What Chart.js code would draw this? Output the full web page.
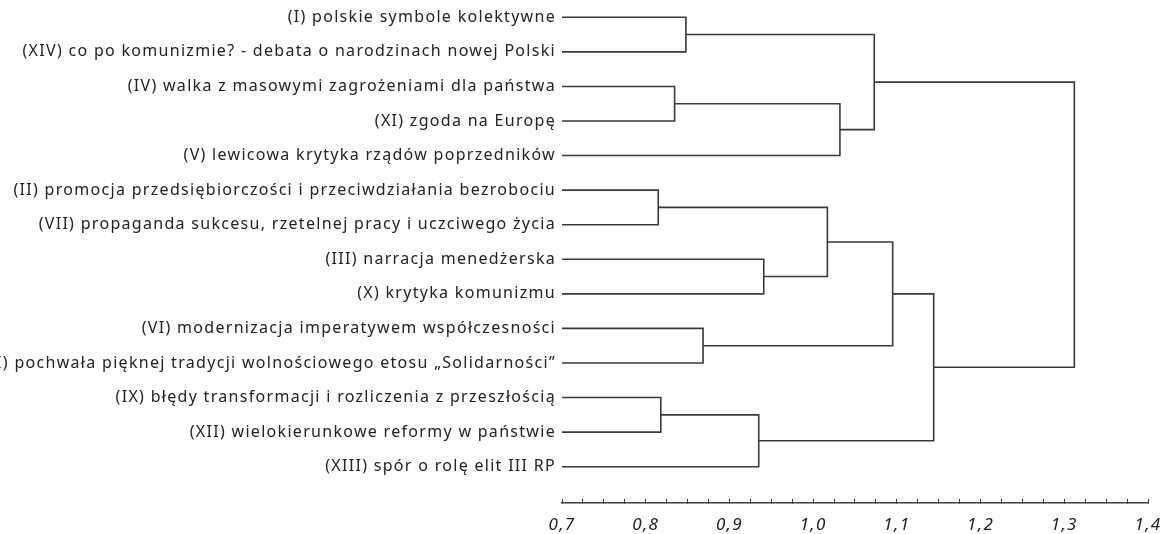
<!DOCTYPE html>
<html lang="pl">
<head>
<meta charset="utf-8">
<title>Dendrogram</title>
<script src="https://cdn.jsdelivr.net/npm/chart.js@4.4.1/dist/chart.umd.min.js"></script>
<style>
  html, body { margin: 0; padding: 0; background: #fff; }
  #wrap { width: 1162px; height: 534px; }
</style>
</head>
<body>
<div id="wrap"><canvas id="chart" width="1162" height="534"></canvas></div>
<script>
// liście dendrogramu, w kolejności od góry
const leafLabels = [
  '(I) polskie symbole kolektywne',
  '(XIV) co po komunizmie? - debata o narodzinach nowej Polski',
  '(IV) walka z masowymi zagrożeniami dla państwa',
  '(XI) zgoda na Europę',
  '(V) lewicowa krytyka rządów poprzedników',
  '(II) promocja przedsiębiorczości i przeciwdziałania bezrobociu',
  '(VII) propaganda sukcesu, rzetelnej pracy i uczciwego życia',
  '(III) narracja menedżerska',
  '(X) krytyka komunizmu',
  '(VI) modernizacja imperatywem współczesności',
  '(VIII) pochwała pięknej tradycji wolnościowego etosu „Solidarności”',
  '(IX) błędy transformacji i rozliczenia z przeszłością',
  '(XII) wielokierunkowe reformy w państwie',
  '(XIII) spór o rolę elit III RP'
]

// połączenia: indeksy 0-13 to liście, 14+ to kolejne skupienia z tej listy
const mergeLeft   = [0, 2, 15, 14, 5, 7, 18, 9, 20, 11, 23, 22, 17]
const mergeRight  = [1, 3, 4, 16, 6, 8, 19, 10, 21, 12, 13, 24, 25]
const mergeHeight = [0.848, 0.8345, 1.032, 1.073, 0.815, 0.941, 1.017, 0.8685, 1.095, 0.818, 0.935, 1.144, 1.312]

// oś X
const xMin = 0.7
const xMax = 1.4
const xMinorStep = 0.025
const xTickValues = [0.7, 0.8, 0.9, 1.0, 1.1, 1.2, 1.3, 1.4]
const xTickLabels = ['0,7', '0,8', '0,9', '1,0', '1,1', '1,2', '1,3', '1,4']

const lineColor = '#3a3a3a'
const textColor = '#222'

// pozycje węzłów
const nodeY = leafLabels.map((_, i) => i)
const nodeH = leafLabels.map(() => xMin)
mergeHeight.forEach((h, k) => {
  const l = mergeLeft[k], r = mergeRight[k]
  nodeY.push((nodeY[l] + nodeY[r]) / 2)
  nodeH.push(h)
})

const datasets = mergeHeight.map((h, k) => {
  const l = mergeLeft[k], r = mergeRight[k]
  return {
    data: [
      { x: nodeH[l], y: nodeY[l] },
      { x: h, y: nodeY[l] },
      { x: h, y: nodeY[r] },
      { x: nodeH[r], y: nodeY[r] }
    ],
    showLine: true,
    borderColor: lineColor,
    borderWidth: 1.6,
    pointRadius: 0,
    tension: 0
  }
})

// szerszy rozstaw liter jak w oryginale
const spacing = {
  id: 'spacing',
  beforeDraw: (chart) => { chart.ctx.letterSpacing = '1.3px' },
  afterDraw: (chart) => { chart.ctx.letterSpacing = '0px' }
}

new Chart(document.getElementById('chart'), {
  type: 'scatter',
  data: { datasets: datasets },
  plugins: [spacing],
  options: {
    responsive: false,
    animation: false,
    devicePixelRatio: 1,
    layout: { padding: { left: 0, right: 14, top: 0, bottom: 0 } },
    plugins: { legend: { display: false }, tooltip: { enabled: false } },
    scales: {
      x: {
        type: 'linear',
        position: 'bottom',
        min: xMin,
        max: xMax,
        border: { display: true, color: lineColor, width: 1.6 },
        grid: { display: true, drawOnChartArea: false, drawTicks: true, tickLength: -4, color: lineColor, lineWidth: 1 },
        ticks: {
          stepSize: xMinorStep,
          autoSkip: false,
          maxRotation: 0,
          padding: 16,
          color: textColor,
          font: { family: 'Noto Sans', size: 17, style: 'italic' },
          callback: (value) => {
            const i = xTickValues.findIndex(v => Math.abs(v - value) < 1e-6)
            return i >= 0 ? xTickLabels[i] : ''
          }
        },
        afterFit: (scale) => {
          scale.height = 31
          scale.paddingLeft = 0
          scale.paddingRight = 0
        }
      },
      y: {
        type: 'linear',
        position: 'left',
        reverse: true,
        min: -0.5,
        max: 14.05,
        border: { display: false },
        grid: { display: false, drawTicks: false },
        afterBuildTicks: (scale) => { scale.ticks = leafLabels.map((_, i) => ({ value: i })) },
        ticks: {
          autoSkip: false,
          padding: 6,
          color: textColor,
          font: { family: 'Noto Sans', size: 16 },
          callback: (value) => leafLabels[value]
        },
        afterFit: (scale) => {
          scale.width = 562
          scale.paddingTop = 0
          scale.paddingBottom = 0
        }
      }
    }
  }
})
</script>
</body>
</html>
